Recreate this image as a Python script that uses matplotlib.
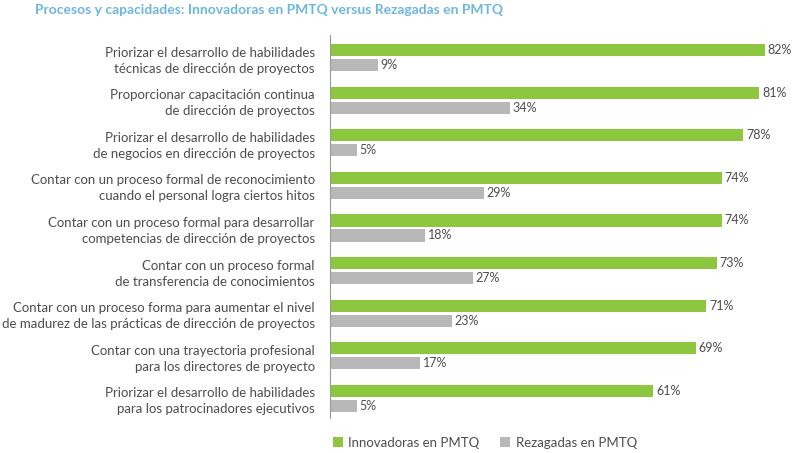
import matplotlib.pyplot as plt

etiquetas = [
    "Priorizar el desarrollo de habilidades\ntécnicas de dirección de proyectos",
    "Proporcionar capacitación continua\nde dirección de proyectos",
    "Priorizar el desarrollo de habilidades\nde negocios en dirección de proyectos",
    "Contar con un proceso formal de reconocimiento\ncuando el personal logra ciertos hitos",
    "Contar con un proceso formal para desarrollar\ncompetencias de dirección de proyectos",
    "Contar con un proceso formal\nde transferencia de conocimientos",
    "Contar con un proceso forma para aumentar el nivel\nde madurez de las prácticas de dirección de proyectos",
    "Contar con una trayectoria profesional\npara los directores de proyecto",
    "Priorizar el desarrollo de habilidades\npara los patrocinadores ejecutivos",
]
innovadoras = [82, 81, 78, 74, 74, 73, 71, 69, 61]
rezagadas = [9, 34, 5, 29, 18, 27, 23, 17, 5]

verde = "#8dc63f"
gris = "#b8b8b9"
texto = "#4d4d4f"

plt.rcParams["font.family"] = ["Lato", "DejaVu Sans"]

fig = plt.figure(figsize=(7.93, 4.53), dpi=100)
ax = fig.add_axes([330 / 793, 35 / 453, 463 / 793, 383 / 453])

pos = list(range(len(etiquetas)))
off = 0.176
alto = 0.29
ax.barh([p - off for p in pos], innovadoras, height=alto, color=verde, label="Innovadoras en PMTQ")
ax.barh([p + off for p in pos], rezagadas, height=alto, color=gris, label="Rezagadas en PMTQ")

for p, v in zip(pos, innovadoras):
    ax.text(v + 0.5, p - off, f"{v}%", va="center", ha="left", fontsize=9, color=texto)
for p, v in zip(pos, rezagadas):
    ax.text(v + 0.5, p + off, f"{v}%", va="center", ha="left", fontsize=9, color=texto)

ax.set_xlim(0, 463 / 5.3)
ax.set_ylim(8.46, -0.53)
ax.set_yticks(pos)
ax.set_yticklabels(etiquetas, fontsize=9.5, color=texto, linespacing=1.4)
ax.tick_params(axis="y", length=0, pad=11)
ax.set_xticks([])
for s in ["top", "right", "bottom"]:
    ax.spines[s].set_visible(False)
ax.spines["left"].set_color("#999999")
ax.spines["left"].set_linewidth(0.8)

fig.text(35 / 793, 1 - 10 / 453, "Procesos y capacidades: Innovadoras en PMTQ versus Rezagadas en PMTQ",
         color="#6cb6e0", fontsize=10, fontweight="bold", va="center", ha="left")

ax.legend(loc="upper left", bbox_to_anchor=(-0.005, -0.035), ncol=2, frameon=False,
          fontsize=9.5, handlelength=0.75, handleheight=0.75, handletextpad=0.4,
          columnspacing=1.6, labelcolor=texto, borderaxespad=0)

fig.savefig("out.png", dpi=100)
